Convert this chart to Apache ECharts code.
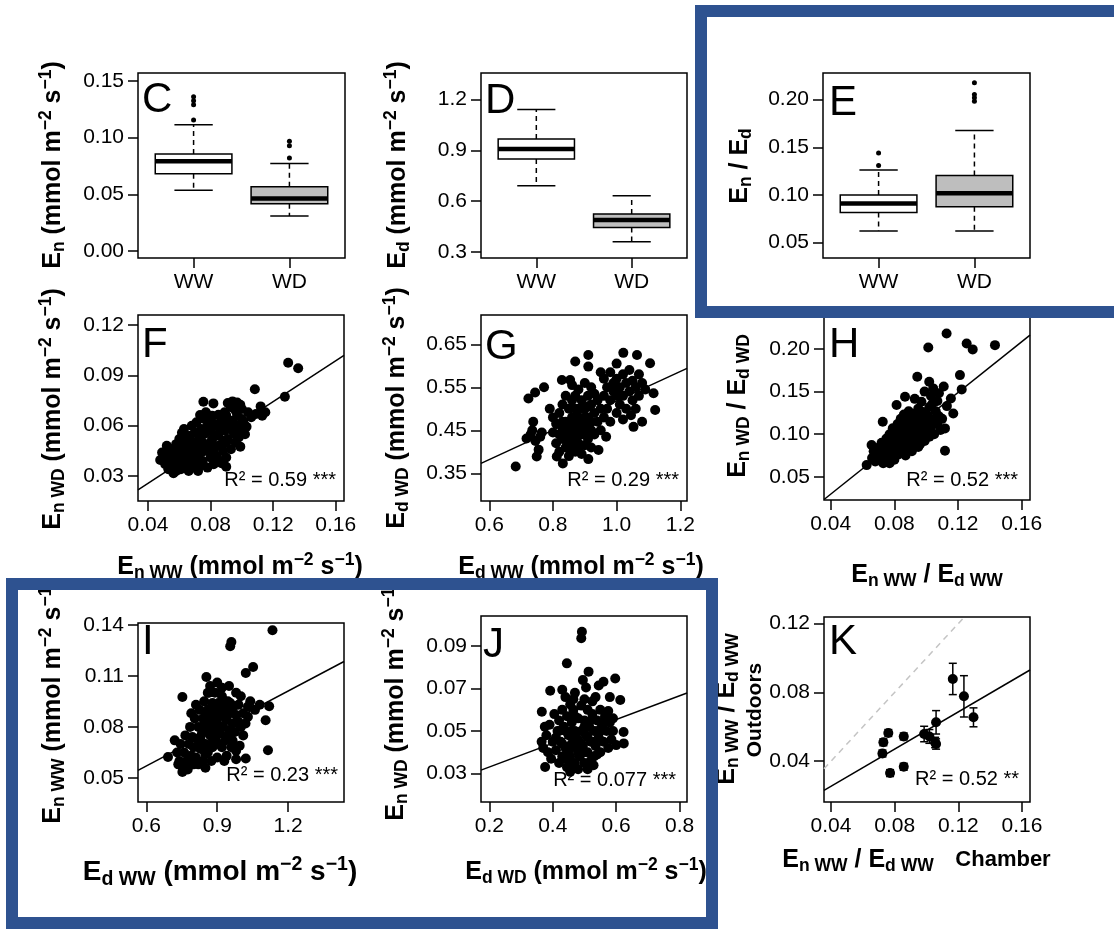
<!DOCTYPE html>
<html><head><meta charset="utf-8">
<script src="https://cdn.jsdelivr.net/npm/echarts@6/dist/echarts.min.js"></script>
<style>html,body{margin:0;padding:0;background:#fff}#c{width:1114px;height:929px}</style>
</head><body><div id="c"></div>
<script>
// ---------------- DATA ----------------
const boxCats = ['WW', 'WD'];
// [lower whisker, Q1, median, Q3, upper whisker]
const boxC = [[0.0538, 0.0682, 0.0792, 0.0857, 0.1114], [0.031, 0.0418, 0.0465, 0.0568, 0.0772]];
const outC = [[1, 0.1155], [1, 0.1290], [1, 0.1325], [1, 0.1360], [2, 0.0822], [2, 0.0930], [2, 0.0968]];
const boxD = [[0.69, 0.849, 0.908, 0.967, 1.141], [0.359, 0.444, 0.487, 0.523, 0.631]];
const outD = [];
const boxE = [[0.0622, 0.0816, 0.0911, 0.0999, 0.1263], [0.0622, 0.0876, 0.1017, 0.1203, 0.1677]];
const outE = [[1, 0.1308], [1, 0.1439], [2, 0.1983], [2, 0.2019], [2, 0.2054], [2, 0.2177]];
const boxFill = ['#ffffff', '#bebebe'];

const fPoints = [[0.1296,0.0975],[0.136,0.0942],[0.1275,0.0773],[0.1083,0.0817],[0.0754,0.0743],[0.0818,0.0733],[0.0617,0.0558],[0.0733,0.0664],[0.112,0.0715],[0.115,0.068],[0.113,0.066],[0.109,0.067],[0.103,0.0594],[0.102,0.0549],[0.099,0.0475],[0.087,0.0376],[0.090,0.0355],[0.0478,0.0395],[0.0563,0.0316],
[0.091,0.0735],[0.094,0.0745],[0.097,0.0738],[0.099,0.0725],[0.093,0.071],[0.096,0.069],[0.1,0.07],[0.104,0.068],[0.106,0.065],[0.1,0.064],[0.097,0.066],[0.089,0.068],[0.087,0.065],[0.085,0.0665],
[0.050,0.041],[0.051,0.037],[0.052,0.044],[0.053,0.034],[0.054,0.040],[0.055,0.046],[0.056,0.036],[0.057,0.043],[0.058,0.049],[0.058,0.033],[0.049,0.044],[0.052,0.048],
[0.059,0.038],[0.060,0.045],[0.060,0.052],[0.061,0.034],[0.062,0.041],[0.062,0.049],[0.063,0.055],[0.064,0.037],[0.064,0.044],[0.065,0.051],[0.066,0.033],[0.066,0.047],[0.063,0.058],[0.061,0.043],[0.065,0.040],
[0.067,0.038],[0.067,0.054],[0.068,0.043],[0.068,0.060],[0.069,0.049],[0.070,0.035],[0.070,0.056],[0.071,0.041],[0.071,0.062],[0.072,0.047],[0.073,0.052],[0.073,0.036],[0.074,0.058],[0.074,0.044],[0.069,0.039],[0.072,0.033],
[0.075,0.050],[0.075,0.039],[0.076,0.055],[0.076,0.064],[0.077,0.045],[0.078,0.035],[0.078,0.060],[0.079,0.049],[0.080,0.041],[0.080,0.057],[0.081,0.066],[0.081,0.052],[0.082,0.037],[0.082,0.046],[0.077,0.068],
[0.083,0.061],[0.084,0.054],[0.084,0.042],[0.085,0.048],[0.086,0.058],[0.086,0.039],[0.087,0.063],[0.088,0.051],[0.088,0.045],[0.089,0.057],[0.090,0.062],[0.090,0.041],
[0.091,0.052],[0.092,0.058],[0.093,0.046],[0.094,0.063],[0.095,0.055],[0.096,0.050],[0.097,0.060],[0.098,0.053],[0.099,0.057],[0.101,0.062],
[0.06,0.048],[0.065,0.045],[0.07,0.045],[0.075,0.045],[0.08,0.05],[0.085,0.055],[0.07,0.05],[0.075,0.055],[0.08,0.062],[0.085,0.06],[0.09,0.066],[0.095,0.06],[0.06,0.04],[0.07,0.04],[0.08,0.045],[0.09,0.05]];
const fLine = [[0.0336, 0.0217], [0.1653, 0.1019]];

const gPoints = [[0.683,0.366],[0.723,0.524],[0.744,0.538],[0.772,0.55],[0.738,0.47],[0.717,0.431],[0.749,0.389],[0.73,0.44],[0.745,0.425],[0.76,0.435],[0.735,0.45],[0.755,0.405],[0.765,0.445],[0.812,0.389],[0.831,0.373],[0.911,0.383],[0.87,0.61],[0.911,0.625],[0.911,0.598],[1.021,0.63],[1.064,0.625],[1.105,0.606],[1.121,0.497],[1.116,0.536],[1.053,0.458],[0.967,0.435],[0.943,0.404],[0.828,0.567],[0.854,0.567],[0.79,0.50],[0.80,0.48],
[0.80,0.445],[0.81,0.42],[0.81,0.465],[0.82,0.40],[0.82,0.44],[0.82,0.49],[0.83,0.43],[0.83,0.47],[0.83,0.51],[0.84,0.41],[0.84,0.45],[0.84,0.53],[0.85,0.39],[0.85,0.43],[0.85,0.47],[0.85,0.50],[0.86,0.415],[0.86,0.455],[0.86,0.52],[0.86,0.555],[0.87,0.40],[0.87,0.44],[0.87,0.48],[0.87,0.53],[0.88,0.42],[0.88,0.46],[0.88,0.50],[0.88,0.545],[0.89,0.395],[0.89,0.44],[0.89,0.475],[0.89,0.52],[0.90,0.415],[0.90,0.46],[0.90,0.50],[0.90,0.56],[0.91,0.43],[0.91,0.48],[0.91,0.53],[0.92,0.41],[0.92,0.45],[0.92,0.51],[0.92,0.55],[0.93,0.44],[0.93,0.49],[0.93,0.535],[0.94,0.47],[0.94,0.52],[0.95,0.45],[0.95,0.50],[0.96,0.48],
[0.96,0.53],[0.96,0.57],[0.97,0.50],[0.97,0.55],[0.98,0.47],[0.98,0.52],[0.98,0.585],[0.99,0.54],[0.99,0.56],[1.0,0.49],[1.0,0.53],[1.0,0.57],[1.01,0.51],[1.01,0.55],[1.02,0.475],[1.02,0.53],[1.02,0.58],[1.03,0.50],[1.03,0.56],[1.04,0.54],[1.04,0.59],[1.05,0.52],[1.05,0.565],[1.06,0.50],[1.06,0.55],[1.07,0.58],[1.07,0.53],[1.08,0.56],[1.09,0.545],[1.08,0.47],[1.0,0.605],[0.95,0.585],[1.045,0.485],
[0.83,0.45],[0.84,0.47],[0.85,0.455],[0.86,0.44],[0.86,0.48],[0.87,0.46],[0.87,0.5],[0.88,0.44],[0.88,0.48],[0.89,0.455],[0.89,0.5],[0.9,0.44],[0.9,0.48],[0.91,0.46],[0.91,0.505],[0.92,0.47],[0.84,0.43],[0.85,0.41],[0.88,0.405],[0.87,0.42]];
const gLine = [[0.574, 0.373], [1.221, 0.594]];

const hPoints = [[0.1128,0.2183],[0.1013,0.2019],[0.1254,0.2066],[0.1292,0.1996],[0.1432,0.2046],[0.0944,0.1674],[0.1019,0.1615],[0.1212,0.1694],[0.1223,0.1526],[0.1118,0.1068],[0.1118,0.0805],[0.117,0.1244],[0.0814,0.1342],[0.0867,0.1439],[0.0928,0.1415],[0.0727,0.1146],[0.0626,0.0637],[0.0657,0.0872],[0.1044,0.1538],[0.108,0.148],[0.111,0.156],[0.1155,0.142],[0.107,0.139],[0.113,0.133],[0.103,0.145],[0.099,0.15],[0.097,0.138],
[0.066,0.072],[0.067,0.080],[0.068,0.068],[0.069,0.076],[0.07,0.084],[0.071,0.071],[0.072,0.079],[0.072,0.09],[0.073,0.066],[0.074,0.074],[0.074,0.085],[0.075,0.095],[0.075,0.07],
[0.076,0.08],[0.076,0.09],[0.077,0.066],[0.077,0.1],[0.078,0.075],[0.078,0.086],[0.079,0.094],[0.079,0.107],[0.08,0.07],[0.08,0.082],[0.081,0.09],[0.081,0.1],[0.082,0.112],[0.082,0.076],[0.083,0.086],[0.083,0.095],[0.084,0.105],[0.084,0.118],[0.085,0.08],[0.085,0.091],[0.085,0.1],
[0.086,0.11],[0.086,0.123],[0.087,0.085],[0.087,0.096],[0.088,0.104],[0.088,0.115],[0.089,0.127],[0.089,0.09],[0.09,0.1],[0.09,0.108],[0.091,0.118],[0.091,0.085],[0.092,0.095],[0.092,0.105],[0.093,0.113],[0.093,0.124],[0.094,0.092],[0.094,0.1],[0.095,0.11],[0.095,0.12],[0.095,0.13],
[0.096,0.088],[0.097,0.098],[0.097,0.106],[0.098,0.116],[0.098,0.126],[0.099,0.092],[0.1,0.102],[0.1,0.112],[0.101,0.122],[0.102,0.097],[0.102,0.132],[0.103,0.108],[0.104,0.117],[0.105,0.1],[0.106,0.127],[0.107,0.112],[0.108,0.121],[0.109,0.105],[0.11,0.118],[0.104,0.136],
[0.075,0.08],[0.078,0.08],[0.08,0.088],[0.082,0.095],[0.084,0.09],[0.086,0.1],[0.088,0.095],[0.09,0.093],[0.092,0.11],[0.094,0.105],[0.096,0.115],[0.083,0.08],[0.087,0.075],[0.091,0.08],[0.095,0.085],[0.078,0.072],[0.072,0.073],[0.07,0.078],[0.089,0.113],[0.093,0.118]];
const hLine = [[0.0358, 0.0233], [0.1652, 0.2164]];

const iPoints = [[1.134,0.1367],[0.96,0.1298],[0.955,0.1273],[1.052,0.1152],[1.021,0.1116],[0.7525,0.0975],[0.854,0.1093],[1.115,0.0663],[1.12,0.0921],[1.105,0.0839],[1.021,0.0614],[0.7525,0.0535],[0.6915,0.0623],[0.72,0.0721],[0.87,0.104],[0.9,0.106],[0.92,0.103],[0.95,0.104],[0.98,0.1],[1.0,0.098],[1.04,0.095],[1.06,0.09],[1.08,0.093],[1.03,0.086],[0.99,0.083],[0.965,0.072],[1.01,0.075],[0.94,0.063],[0.98,0.061],
[0.73,0.065],[0.74,0.06],[0.745,0.07],[0.75,0.057],[0.76,0.065],[0.765,0.075],[0.77,0.06],[0.775,0.055],[0.78,0.07],[0.785,0.08],[0.79,0.063],[0.795,0.074],[0.8,0.058],[0.8,0.068],[0.735,0.058],
[0.805,0.085],[0.81,0.062],[0.815,0.073],[0.82,0.08],[0.82,0.058],[0.825,0.09],[0.83,0.067],[0.835,0.076],[0.84,0.085],[0.84,0.06],[0.845,0.095],[0.85,0.07],[0.855,0.08],[0.86,0.065],[0.86,0.09],[0.865,0.1],[0.87,0.075],[0.875,0.084],[0.875,0.06],[0.88,0.094],[0.88,0.068],
[0.885,0.08],[0.89,0.088],[0.89,0.1],[0.895,0.072],[0.9,0.062],[0.9,0.082],[0.905,0.094],[0.91,0.076],[0.915,0.087],[0.92,0.098],[0.92,0.068],[0.925,0.08],[0.93,0.09],[0.935,0.072],[0.94,0.084],[0.945,0.095],[0.95,0.078],[0.955,0.088],[0.96,0.068],[0.965,0.082],[0.97,0.092],
[0.975,0.077],[0.98,0.087],[0.99,0.093],[1.0,0.08],[1.01,0.088],[1.02,0.082],[1.03,0.092],[0.995,0.069],[0.98,0.066],[0.93,0.06],[0.85,0.056],[0.81,0.093],[0.79,0.088],[0.86,0.1],
[0.83,0.072],[0.845,0.082],[0.855,0.088],[0.865,0.078],[0.875,0.07],[0.885,0.09],[0.895,0.084],[0.905,0.07],[0.915,0.08],[0.925,0.092],[0.935,0.085],[0.945,0.075],[0.955,0.094],[0.87,0.09],[0.89,0.076],[0.91,0.092],[0.9,0.077],[0.82,0.068],[0.85,0.064],[0.96,0.09]];
const iLine = [[0.5644, 0.0545], [1.437, 0.1184]];

const jPoints = [[0.492,0.0968],[0.49,0.0937],[0.4446,0.0819],[0.513,0.078],[0.495,0.074],[0.392,0.069],[0.3656,0.0591],[0.597,0.0748],[0.56,0.0732],[0.545,0.0715],[0.613,0.0646],[0.6234,0.0496],[0.624,0.0442],[0.6,0.0434],[0.376,0.0331],[0.5287,0.0339],[0.455,0.0308],[0.47,0.068],[0.44,0.066],[0.43,0.0695],[0.505,0.0705],[0.58,0.066],[0.535,0.066],[0.455,0.0625],[0.575,0.0595],[0.59,0.056],
[0.365,0.045],[0.37,0.042],[0.38,0.048],[0.385,0.04],[0.39,0.053],[0.395,0.037],[0.4,0.045],[0.405,0.058],[0.41,0.041],[0.415,0.05],[0.42,0.035],[0.42,0.055],[0.375,0.052],
[0.425,0.045],[0.43,0.06],[0.43,0.038],[0.435,0.052],[0.44,0.042],[0.445,0.057],[0.445,0.033],[0.45,0.048],[0.455,0.038],[0.46,0.054],[0.46,0.044],[0.465,0.06],[0.47,0.035],[0.47,0.05],[0.475,0.042],[0.48,0.056],[0.48,0.046],
[0.485,0.038],[0.49,0.062],[0.49,0.05],[0.495,0.043],[0.5,0.055],[0.5,0.035],[0.505,0.048],[0.51,0.06],[0.51,0.04],[0.515,0.052],[0.52,0.045],[0.525,0.058],[0.53,0.038],[0.53,0.05],[0.535,0.043],[0.54,0.055],
[0.545,0.047],[0.55,0.06],[0.55,0.04],[0.555,0.052],[0.56,0.045],[0.565,0.057],[0.57,0.05],[0.575,0.042],[0.58,0.054],[0.585,0.046],[0.59,0.05],
[0.465,0.065],[0.5,0.065],[0.525,0.064],[0.44,0.05],[0.51,0.032],[0.48,0.032],
[0.41,0.047],[0.43,0.044],[0.45,0.041],[0.47,0.046],[0.49,0.044],[0.51,0.047],[0.53,0.045],[0.55,0.05],[0.44,0.037],[0.46,0.034],[0.48,0.04],[0.5,0.04],[0.52,0.036],[0.54,0.039],[0.42,0.05],[0.46,0.05],[0.5,0.052],[0.52,0.055],[0.47,0.057],[0.56,0.054]];
const jLine = [[0.1738, 0.0316], [0.8234, 0.0679]];

// K: chamber (x) vs outdoors (y) with SE
const kX = [0.1165, 0.1235, 0.1295, 0.106, 0.106, 0.0985, 0.1018, 0.1054, 0.076, 0.0729, 0.0723, 0.0771, 0.0857, 0.0857];
const kY = [0.0878, 0.0777, 0.0655, 0.0626, 0.050, 0.0558, 0.0544, 0.0509, 0.0564, 0.051, 0.0445, 0.0331, 0.0544, 0.0368];
const kErr = [0.0091, 0.012, 0.0055, 0.0068, 0.003, 0.0045, 0.004, 0.003, 0.002, 0.002, 0.002, 0.002, 0.002, 0.002];
const kLine = [[0.0356, 0.0231], [0.165, 0.093]];
const kOneToOne = [[0.0356, 0.0356], [0.1238, 0.1238]];

const r2Labels = ['R² = 0.59 ***', 'R² = 0.29 ***', 'R² = 0.52 ***', 'R² = 0.23 ***', 'R² = 0.077 ***', 'R² = 0.52 **'];

// tick values
const ticksC = [0, 0.05, 0.10, 0.15];
const ticksD = [0.3, 0.6, 0.9, 1.2];
const ticksE = [0.05, 0.10, 0.15, 0.20];
const ticksRatioX = [0.04, 0.08, 0.12, 0.16];
const ticksFy = [0.03, 0.06, 0.09, 0.12];
const ticksGx = [0.6, 0.8, 1.0, 1.2];
const ticksGy = [0.35, 0.45, 0.55, 0.65];
const ticksHy = [0.05, 0.10, 0.15, 0.20];
const ticksIx = [0.6, 0.9, 1.2];
const ticksIy = [0.05, 0.08, 0.11, 0.14];
const ticksJx = [0.2, 0.4, 0.6, 0.8];
const ticksJy = [0.03, 0.05, 0.07, 0.09];
const ticksKy = [0.04, 0.08, 0.12];
const ticksBox = [1, 2];

// ---------------- LAYOUT ----------------
const FONT = '"Liberation Sans", Arial, Helvetica, sans-serif';
const panels = [
  {g: [138, 73, 207, 185], x: [0.42, 2.58], y: [-0.006, 0.157], xt: ticksBox, yt: ticksC, xd: -1, yd: 2},
  {g: [481, 73, 206, 185], x: [0.42, 2.58], y: [0.263, 1.357], xt: ticksBox, yt: ticksD, xd: -1, yd: 1},
  {g: [823, 73, 207, 185], x: [0.42, 2.58], y: [0.0338, 0.228], xt: ticksBox, yt: ticksE, xd: -1, yd: 2},
  {g: [138, 315, 206, 186], x: [0.0336, 0.1653], y: [0.0151, 0.126], xt: ticksRatioX, yt: ticksFy, xd: 2, yd: 2},
  {g: [481, 315, 206, 186], x: [0.574, 1.221], y: [0.2856, 0.718], xt: ticksGx, yt: ticksGy, xd: 1, yd: 2},
  {g: [824, 315, 206, 185], x: [0.0358, 0.1652], y: [0.0227, 0.240], xt: ticksRatioX, yt: ticksHy, xd: 2, yd: 2},
  {g: [138, 623, 206, 179], x: [0.5644, 1.437], y: [0.0359, 0.141], xt: ticksIx, yt: ticksIy, xd: 1, yd: 2},
  {g: [481, 616, 206, 186], x: [0.1738, 0.8234], y: [0.0166, 0.1042], xt: ticksJx, yt: ticksJy, xd: 1, yd: 2},
  {g: [824, 617, 206, 185], x: [0.0356, 0.165], y: [0.0163, 0.1238], xt: ticksRatioX, yt: ticksKy, xd: 2, yd: 2}
];

const grids = panels.map(p => ({left: p.g[0], top: p.g[1], width: p.g[2], height: p.g[3], show: true,
  borderColor: '#000', borderWidth: 1.5, backgroundColor: 'rgba(0,0,0,0)', containLabel: false}));

function mkAxis(i, range, ticks, dec) {
  return {
    type: 'value', gridIndex: i, min: range[0], max: range[1], scale: true,
    axisLine: {show: false, onZero: false},
    axisTick: {show: true, length: 10, inside: false, customValues: ticks, lineStyle: {color: '#000', width: 1.5}},
    axisLabel: {show: true, customValues: ticks, margin: 14, color: '#000', fontSize: 21, fontFamily: FONT,
      formatter: v => dec < 0 ? boxCats[Math.round(v) - 1] : Number(v).toFixed(dec)},
    splitLine: {show: false}
  };
}
const xAxes = panels.map((p, i) => mkAxis(i, p.x, p.xt, p.xd));
const yAxes = panels.map((p, i) => mkAxis(i, p.y, p.yt, p.yd));

function renderBox(params, api) {
  const x = api.value(0);
  const lo = api.coord([x, api.value(1)]);
  const q1 = api.coord([x, api.value(2)]);
  const md = api.coord([x, api.value(3)]);
  const q3 = api.coord([x, api.value(4)]);
  const hi = api.coord([x, api.value(5)]);
  const hw = api.size([0.4, 0])[0];
  const cw = hw / 2;
  const cx = lo[0];
  const ln = {stroke: '#000', lineWidth: 1.5};
  const dash = {stroke: '#000', lineWidth: 1.5, lineDash: [5, 4]};
  return {type: 'group', children: [
    {type: 'line', shape: {x1: cx, y1: q3[1], x2: cx, y2: hi[1]}, style: dash},
    {type: 'line', shape: {x1: cx, y1: q1[1], x2: cx, y2: lo[1]}, style: dash},
    {type: 'line', shape: {x1: cx - cw, y1: hi[1], x2: cx + cw, y2: hi[1]}, style: ln},
    {type: 'line', shape: {x1: cx - cw, y1: lo[1], x2: cx + cw, y2: lo[1]}, style: ln},
    {type: 'rect', shape: {x: cx - hw, y: q3[1], width: 2 * hw, height: q1[1] - q3[1]},
      style: {fill: boxFill[params.dataIndex], stroke: '#000', lineWidth: 1.5}},
    {type: 'line', shape: {x1: cx - hw, y1: md[1], x2: cx + hw, y2: md[1]}, style: {stroke: '#000', lineWidth: 4.5}}
  ]};
}
function renderErr(params, api) {
  const x = api.value(0), y = api.value(1), e = api.value(2);
  const t = api.coord([x, y + e]), b = api.coord([x, y - e]);
  const c = 4, st = {stroke: '#000', lineWidth: 1.5};
  return {type: 'group', children: [
    {type: 'line', shape: {x1: t[0], y1: t[1], x2: b[0], y2: b[1]}, style: st},
    {type: 'line', shape: {x1: t[0] - c, y1: t[1], x2: t[0] + c, y2: t[1]}, style: st},
    {type: 'line', shape: {x1: b[0] - c, y1: b[1], x2: b[0] + c, y2: b[1]}, style: st}
  ]};
}

const dotStyle = {color: '#000', opacity: 1};
const series = [];
[[boxC, outC], [boxD, outD], [boxE, outE]].forEach(([bx, out], i) => {
  series.push({type: 'custom', xAxisIndex: i, yAxisIndex: i, renderItem: renderBox, silent: true,
    encode: {x: 0, y: [1, 2, 3, 4, 5]}, data: bx.map((b, k) => [k + 1].concat(b)), z: 3});
  series.push({type: 'scatter', xAxisIndex: i, yAxisIndex: i, data: out, symbolSize: 5, silent: true,
    itemStyle: dotStyle, z: 4});
});
[[fPoints, fLine], [gPoints, gLine], [hPoints, hLine], [iPoints, iLine], [jPoints, jLine]].forEach(([pts, line], k) => {
  const i = k + 3;
  series.push({type: 'scatter', xAxisIndex: i, yAxisIndex: i, data: pts, symbolSize: 10, silent: true,
    itemStyle: dotStyle, z: 3});
  series.push({type: 'line', xAxisIndex: i, yAxisIndex: i, data: line, symbol: 'none', silent: true,
    lineStyle: {color: '#000', width: 1.5}, z: 4});
});
series.push({type: 'line', xAxisIndex: 8, yAxisIndex: 8, data: kOneToOne, symbol: 'none', silent: true,
  lineStyle: {color: '#c4c4c4', width: 1.5, type: [6, 5]}, z: 2});
series.push({type: 'line', xAxisIndex: 8, yAxisIndex: 8, data: kLine, symbol: 'none', silent: true,
  lineStyle: {color: '#000', width: 1.5}, z: 4});
series.push({type: 'custom', xAxisIndex: 8, yAxisIndex: 8, renderItem: renderErr, silent: true,
  encode: {x: 0, y: 1}, data: kX.map((x, k) => [x, kY[k], kErr[k]]), z: 3});
series.push({type: 'scatter', xAxisIndex: 8, yAxisIndex: 8, data: kX.map((x, k) => [x, kY[k]]), symbolSize: 10,
  silent: true, itemStyle: dotStyle, z: 5});

// ---------------- TEXT ----------------
function richStyles(m, s) {
  return {
    b: {fontFamily: FONT, fontWeight: 'bold', fontSize: m, fill: '#000', lineHeight: Math.round(m * 1.25)},
    s: {fontFamily: FONT, fontWeight: 'bold', fontSize: s, fill: '#000', lineHeight: s, verticalAlign: 'bottom'},
    p: {fontFamily: FONT, fontWeight: 'bold', fontSize: s, fill: '#000', lineHeight: s, verticalAlign: 'top'}
  };
}
function unitTitle(sym, sub) {
  return '{b|' + sym + '}{s|' + sub + '}{b| (mmol m}{p|−2}{b| s}{p|−1}{b|)}';
}
function ratioTitle(sub1, sub2) {
  return '{b|E}{s|' + sub1 + '}{b| / E}{s|' + sub2 + '}';
}
function title(text, x, y, vertical, m, s) {
  return {type: 'text', x: x, y: y, rotation: vertical ? Math.PI / 2 : 0, silent: true,
    style: {text: text, rich: richStyles(m || 25, s || 17.5), align: 'center', verticalAlign: 'middle',
      textAlign: 'center', textVerticalAlign: 'middle'}};
}
function plain(text, x, y, size, weight, align, rot) {
  return {type: 'text', x: x, y: y, rotation: rot || 0, silent: true,
    style: {text: text, fill: '#000', font: (weight || 'normal') + ' ' + size + 'px ' + FONT,
      align: align || 'left', verticalAlign: 'middle', textAlign: align || 'left', textVerticalAlign: 'middle'}};
}

const graphics = [
  // y-axis titles
  title(unitTitle('E', 'n'), 53, 165, true),
  title(unitTitle('E', 'd'), 398, 165, true),
  title(ratioTitle('n', 'd'), 740, 166, true),
  title(unitTitle('E', 'n WD'), 53, 409, true),
  title(unitTitle('E', 'd WD'), 397, 408, true),
  title(ratioTitle('n WD', 'd WD'), 738, 406, true),
  title(unitTitle('E', 'n WW'), 53, 701, true),
  title(unitTitle('E', 'n WD'), 396, 700, true),
  title(ratioTitle('n WW', 'd WW'), 727, 709, true),
  plain('Outdoors', 755, 710, 21, 'bold', 'center', Math.PI / 2),
  // x-axis titles
  title(unitTitle('E', 'n WW'), 240, 567, false),
  title(unitTitle('E', 'd WW'), 581, 567, false),
  title(ratioTitle('n WW', 'd WW'), 927, 575, false),
  title(unitTitle('E', 'd WW'), 220, 872, false, 28, 19.5),
  title(unitTitle('E', 'd WD'), 586, 872, false),
  title(ratioTitle('n WW', 'd WW'), 858, 860, false),
  plain('Chamber', 1003, 860, 22, 'bold', 'center'),
  // panel letters
  plain('C', 142, 100, 42), plain('D', 485, 101, 42), plain('E', 829, 103, 42),
  plain('F', 142, 345, 42), plain('G', 485, 347, 42), plain('H', 829, 345, 42),
  plain('I', 142, 642, 42), plain('J', 483, 645, 42), plain('K', 829, 642, 42),
  // R squared
  plain(r2Labels[0], 336, 480, 20, 'normal', 'right'),
  plain(r2Labels[1], 679, 480, 20, 'normal', 'right'),
  plain(r2Labels[2], 1018, 480, 20, 'normal', 'right'),
  plain(r2Labels[3], 338, 775, 20, 'normal', 'right'),
  plain(r2Labels[4], 676, 780, 20, 'normal', 'right'),
  plain(r2Labels[5], 1019, 779, 20, 'normal', 'right'),
  // blue highlight frames
  {type: 'rect', silent: true, shape: {x: 701, y: 11, width: 440, height: 301},
    style: {fill: 'none', stroke: '#2E5290', lineWidth: 12}},
  {type: 'rect', silent: true, shape: {x: 12, y: 584, width: 700, height: 339},
    style: {fill: 'none', stroke: '#2E5290', lineWidth: 12}}
];

const chart = echarts.init(document.getElementById('c'), null, {renderer: 'canvas'});
chart.setOption({
  backgroundColor: '#fff',
  animation: false,
  textStyle: {fontFamily: FONT},
  grid: grids,
  xAxis: xAxes,
  yAxis: yAxes,
  series: series,
  graphic: {elements: graphics}
});
</script>
</body></html>
